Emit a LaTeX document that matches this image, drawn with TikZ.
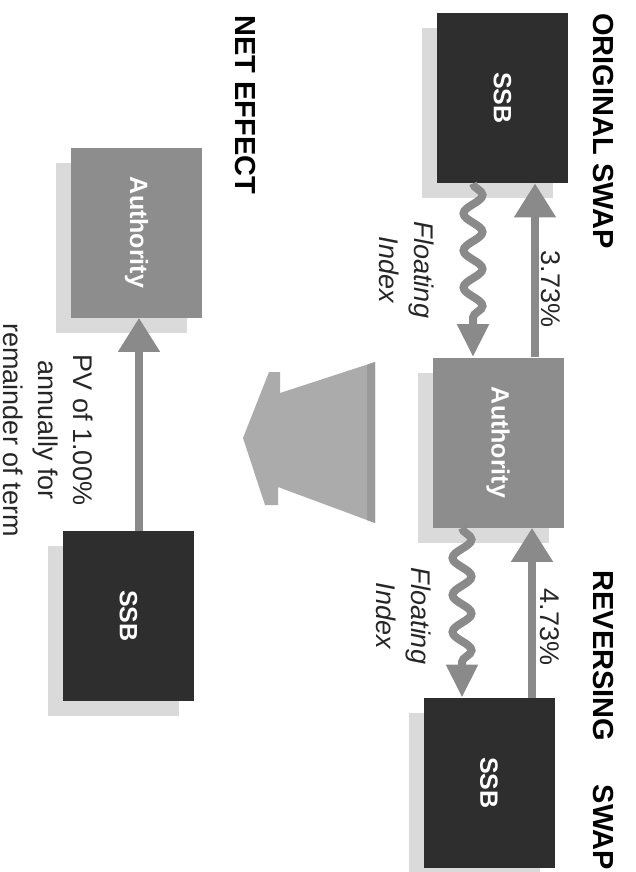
\documentclass[tikz,border=0pt]{standalone}
\usepackage{graphicx}
\usepackage{fontspec}
\setmainfont{Liberation Sans}
\usepackage{tikz}
\usetikzlibrary{arrows.meta, decorations.pathmorphing, shadows}

\definecolor{ssbdark}{HTML}{2E2E2E}
\definecolor{authgray}{HTML}{8D8D8D}
\definecolor{flowgray}{HTML}{8A8A8A}
\definecolor{shadegray}{HTML}{DADADA}
\definecolor{bigarrowgray}{HTML}{ABABAB}
\definecolor{bigedgegray}{HTML}{9A9A9A}

\begin{document}
\begin{tikzpicture}[
            x=0.5pt, y=-0.5pt,
            party/.style     ={rectangle, minimum width=65.5pt, minimum height=85pt, inner sep=0pt,
                               text=white, font=\bfseries\fontsize{12.5}{14}\selectfont,
                               general shadow={fill=shadegray, shadow xshift=-7.5pt, shadow yshift=-7.5pt}},
            ssb/.style       ={party, fill=ssbdark},
            authority/.style ={party, fill=authgray},
            title/.style     ={rotate=-90, anchor=west, inner sep=0pt,
                               font=\bfseries\fontsize{14.5}{17}\selectfont},
            rate/.style      ={rotate=-90, inner sep=0pt, text=black!85,
                               font=\fontsize{13.5}{17.5}\selectfont},
            floatlabel/.style={rate, align=center, font=\itshape\fontsize{13.5}{17.5}\selectfont},
            fixarrow/.style  ={-{Triangle[length=17pt, width=20pt]}, line width=4pt, draw=flowgray},
            floatarrow/.style={-{Triangle[length=16.5pt, width=15pt]}, line width=4pt, draw=flowgray,
                               decorate, decoration={snake, amplitude=4.75pt,
                               segment length=18.5pt, post length=17pt}}
        ]
        \useasboundingbox (0,0) rectangle (636,872);

        % original swap and the reversing swap
        \node[ssb]       (ssbA)  at (502.5,98)  {\rotatebox{-90}{SSB}};
        \node[authority] (authA) at (498,442.5) {\rotatebox{-90}{Authority}};
        \node[ssb]       (ssbB)  at (489,783)   {\rotatebox{-90}{SSB}};

        \draw[fixarrow]   ([xshift=18.5pt]authA.north) -- ([xshift=18.5pt]authA.north |- ssbA.south);
        \draw[floatarrow] ([xshift=-14.75pt]ssbA.south) -- ([xshift=-14.75pt]ssbA.south |- authA.north);
        \draw[fixarrow]   ([xshift=21.5pt]ssbB.north) -- ([xshift=21.5pt]ssbB.north |- authA.south);
        \draw[floatarrow] ([xshift=-18pt]authA.south) -- ([xshift=-18pt]authA.south |- ssbB.north);

        \node[rate]       (rateA)  at (551,289) {3.73\%};
        \node[rate]       (rateB)  at (550,627) {4.73\%};
        \node[floatlabel] (floatA) at (407,270) {Floating\\Index};
        \node[floatlabel] (floatB) at (404,616) {Floating\\Index};

        \node[title] (origT) at (603,13)  {ORIGINAL SWAP};
        \node[title] (revT)  at (603,570) {REVERSING\hspace{1.5em}SWAP};

        % big arrow towards the net effect
        \fill[bigarrowgray] (375,362) -- (280,393) -- (280,372) -- (269,372) -- (243,438)
            -- (265,505) -- (278,505) -- (278,487) -- (375,523) -- cycle;
        \fill[bigedgegray] (367,365) -- (375,362) -- (375,523) -- (367,520) -- cycle;

        % net effect
        \node[title] (netT) at (245,15) {NET EFFECT};
        \node[authority] (authN) at (136.5,232.5) {\rotatebox{-90}{Authority}};
        \node[ssb]       (ssbN)  at (128.5,616)   {\rotatebox{-90}{SSB}};
        \draw[fixarrow] ([xshift=5.25pt]ssbN.north) -- ([xshift=5.25pt]ssbN.north |- authN.south);
        \node[rate, align=center] (pvnote) at (48,430) {PV of 1.00\%\\annually for\\remainder of term};
        \end{tikzpicture}
\end{document}
